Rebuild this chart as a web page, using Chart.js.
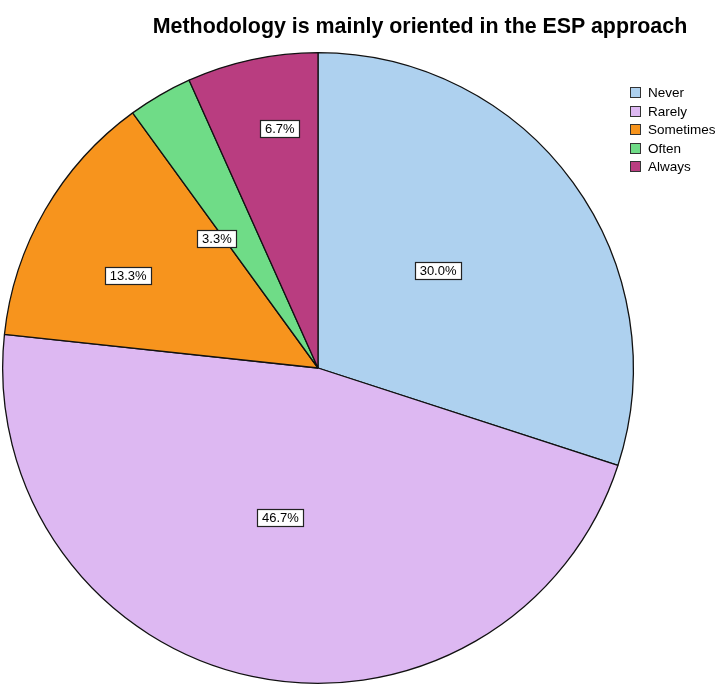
<!DOCTYPE html>
<html>
<head>
<meta charset="utf-8">
<script src="https://cdn.jsdelivr.net/npm/chart.js@4/dist/chart.umd.min.js"></script>
<style>
  html, body { margin:0; padding:0; background:#fff; }
  #wrap { position:relative; width:718px; height:692px; overflow:hidden; }
  #title { position:absolute; left:0; top:14px; width:840px; text-align:center;
           font:bold 21.4px "Liberation Sans", Arial, sans-serif; color:#000; white-space:nowrap; }
  #legend { position:absolute; left:630px; top:84px; font:13.5px "Liberation Sans", Arial, sans-serif; color:#000; }
  #legend div { height:18.6px; line-height:18px; white-space:nowrap; }
  #legend span.sw { display:inline-block; width:9px; height:9px; border:1px solid #333;
                    margin-right:7px; vertical-align:-1px; }
  canvas { position:absolute; left:0; top:0; }
</style>
</head>
<body>
<div id="wrap">
  <canvas id="pie" width="718" height="692"></canvas>
  <div id="title">Methodology is mainly oriented in the ESP approach</div>
  <div id="legend"></div>
</div>
<script>
// ======= Data =======
const categories = ['Never', 'Rarely', 'Sometimes', 'Often', 'Always'];
const percents = [30.0, 46.7, 13.3, 3.3, 6.7];
const colors = ['#aed1ef', '#ddb8f2', '#f7941d', '#6fdc87', '#b93d80'];
// value box placement: fraction of radius, and small angle nudge (deg)
const labelDist = [0.49, 0.49, 0.67, 0.52, 0.77];
const labelNudge = [-3, 2, -4, -8, 3];

// ======= Legend (html) =======
const legendEl = document.getElementById('legend');
categories.forEach((c, i) => {
  const row = document.createElement('div');
  row.innerHTML = `<span class="sw" style="background:${colors[i]}"></span>${c}`;
  legendEl.appendChild(row);
});

// ======= Value boxes =======
const valueBoxes = {
  id: 'valueBoxes',
  afterDatasetsDraw(chart) {
    const ctx = chart.ctx;
    const meta = chart.getDatasetMeta(0);
    ctx.save();
    ctx.font = '13px "Liberation Sans", Arial, sans-serif';
    ctx.textAlign = 'center';
    ctx.textBaseline = 'middle';
    meta.data.forEach((arc, i) => {
      const p = arc.getProps(['x', 'y', 'startAngle', 'endAngle', 'outerRadius'], true);
      const mid = (p.startAngle + p.endAngle) / 2 + labelNudge[i] * Math.PI / 180;
      const r = p.outerRadius * labelDist[i];
      const x = p.x + Math.cos(mid) * r;
      const y = p.y + Math.sin(mid) * r;
      const txt = percents[i].toFixed(1) + '%';
      const w = Math.round(ctx.measureText(txt).width + 9);
      const h = 17;
      const bx = Math.round(x - w / 2) + 0.5, by = Math.round(y - h / 2) + 0.5;
      ctx.fillStyle = '#fff';
      ctx.fillRect(bx, by, w, h);
      ctx.strokeStyle = '#222';
      ctx.lineWidth = 1.2;
      ctx.strokeRect(bx, by, w, h);
      ctx.fillStyle = '#000';
      ctx.fillText(txt, x, y + 1);
    });
    ctx.restore();
  }
};

// ======= Chart =======
new Chart(document.getElementById('pie'), {
  type: 'pie',
  data: {
    labels: categories,
    datasets: [{
      data: percents,
      backgroundColor: colors,
      borderColor: '#111',
      borderWidth: 1.3
    }]
  },
  options: {
    responsive: false,
    animation: false,
    layout: { padding: { left: 2, top: 44, right: 84, bottom: 0 } },
    plugins: {
      legend: { display: false },
      title: { display: false },
      tooltip: { enabled: false }
    }
  },
  plugins: [valueBoxes]
});
</script>
</body>
</html>
